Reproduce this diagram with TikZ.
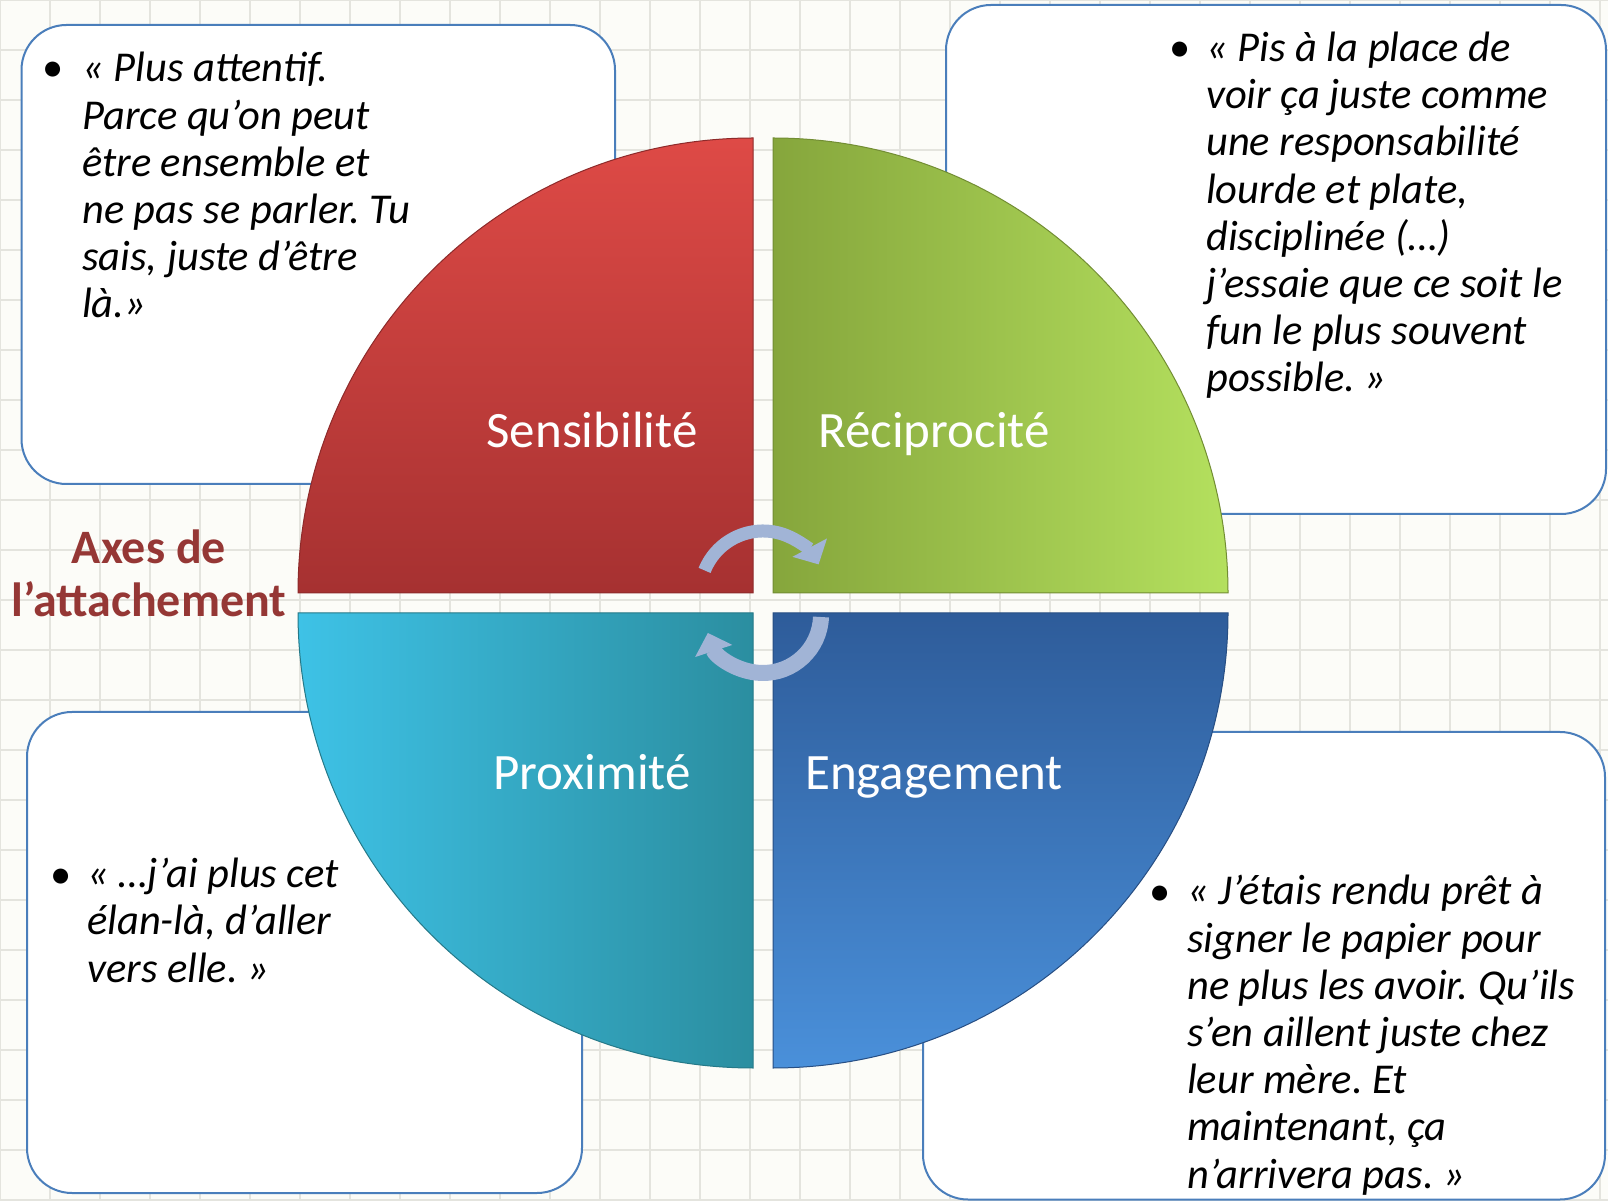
\documentclass[tikz,border=0pt]{standalone}
\usepackage{fontspec}
\setmainfont{Carlito}
\usepackage{xcolor}
\usepackage{tikz}
\usetikzlibrary{arrows.meta}
\frenchspacing

\definecolor{boxblue}{HTML}{4A7EBB}
\definecolor{axesred}{HTML}{953735}
\definecolor{bgcolor}{HTML}{FCFCF8}
\definecolor{gridcolor}{HTML}{E4E4DE}
\definecolor{sensA}{HTML}{DE4A46}
\definecolor{sensB}{HTML}{A63131}
\definecolor{recA}{HTML}{86A63C}
\definecolor{recB}{HTML}{B4E05E}
\definecolor{proxA}{HTML}{3EC2E6}
\definecolor{proxB}{HTML}{2B8EA0}
\definecolor{engA}{HTML}{2E5C9A}
\definecolor{engB}{HTML}{4A90DA}
\definecolor{arrowblue}{HTML}{A1B4D6}

\newcommand{\quotefont}{\fontsize{42.5}{47.2}\selectfont\itshape}

\tikzset{
    quotebox/.style={draw=boxblue, line width=2pt, fill=white, rounded corners=45pt},
    % anchored at the baseline of the last line
    quotetext/.style={anchor=base west, align=left, inner sep=0pt, font=\quotefont},
    quotebullet/.style={anchor=base, inner sep=0pt, font=\fontsize{42.5}{47}\selectfont},
    quarterlabel/.style={anchor=base, inner sep=0pt, text=white, font=\fontsize{51}{60}\selectfont},
    quarteredge/.style={draw=#1, line width=1pt},
    cyclearrow/.style={draw=arrowblue, line width=#1, -{Triangle[width=38pt,length=19pt]}}
}

\begin{document}
\begin{tikzpicture}[x=1pt, y=1pt]
    % background with grid
    \fill[bgcolor] (0,0) rectangle (1608,1200);
    \useasboundingbox (0,0) rectangle (1608,1200);
    \draw[gridcolor, line width=1.2pt] (0,-2) grid[step=50pt] (1608,1200);

    % quote boxes
    \path[quotebox] (21.5,716) rectangle (615,1175);
    \path[quotebox] (946,686) rectangle (1606,1195);
    \path[quotebox] (27,7) rectangle (582,488);
    \path[quotebox] (923,0.5) rectangle (1605,468);

    % the four quarters
    \shade[top color=sensA, bottom color=sensB, quarteredge=sensB!85!black]
        (753,607) -- ++(-455,0) arc (180:90:455) -- cycle;
    \shade[left color=recA, right color=recB, quarteredge=recA!85!black]
        (773,607) -- ++(0,455) arc (90:0:455) -- cycle;
    \shade[left color=proxA, right color=proxB, quarteredge=proxB!85!black]
        (753,587) -- ++(0,-455) arc (270:180:455) -- cycle;
    \shade[top color=engA, bottom color=engB, quarteredge=engA!85!black]
        (773,587) -- ++(455,0) arc (0:-90:455) -- cycle;

    \node[quarterlabel] (sens) at (592,752) {Sensibilité};
    \node[quarterlabel] (recip) at (934,752) {Réciprocité};
    \node[quarterlabel] (prox) at (592,410) {Proximité};
    \node[quarterlabel] (engag) at (934,410) {Engagement};

    % cycle arrows
    \coordinate (cup) at (763,606);
    \coordinate (clow) at (763,585);
    \draw[cyclearrow=13pt] (cup) ++(158:63) arc (158:28:63);
    \draw[cyclearrow=16pt] (clow) ++(-2:58) arc (-2:-162:58);

    % title
    \node[anchor=base, align=center, inner sep=0pt, text=axesred,
          font=\fontsize{48}{53}\selectfont\bfseries] (axes) at (149,583)
        {Axes de\\l’attachement};

    % quotes
    \node[quotebullet] (btl) at (53,1118) {•};
    \node[quotetext] (qtl) at (82,882)
        {« Plus attentif.\\Parce qu’on peut\\être ensemble et\\ne pas se parler. Tu\\sais, juste d’être\\là.»};
    \node[quotebullet] (btr) at (1180,1138) {•};
    \node[quotetext] (qtr) at (1206,808)
        {« Pis à la place de\\voir ça juste comme\\une responsabilité\\lourde et plate,\\disciplinée (…)\\j’essaie que ce soit le\\fun le plus souvent\\possible. »};
    \node[quotebullet] (bbl) at (61,312) {•};
    \node[quotetext] (qbl) at (87,218)
        {« …j’ai plus cet\\élan-là, d’aller\\vers elle. »};
    \node[quotebullet] (bbr) at (1160,295) {•};
    \node[quotetext] (qbr) at (1187,12)
        {« J’étais rendu prêt à\\signer le papier pour\\ne plus les avoir. Qu’ils\\s’en aillent juste chez\\leur mère. Et\\maintenant, ça\\n’arrivera pas. »};
\end{tikzpicture}
\end{document}
